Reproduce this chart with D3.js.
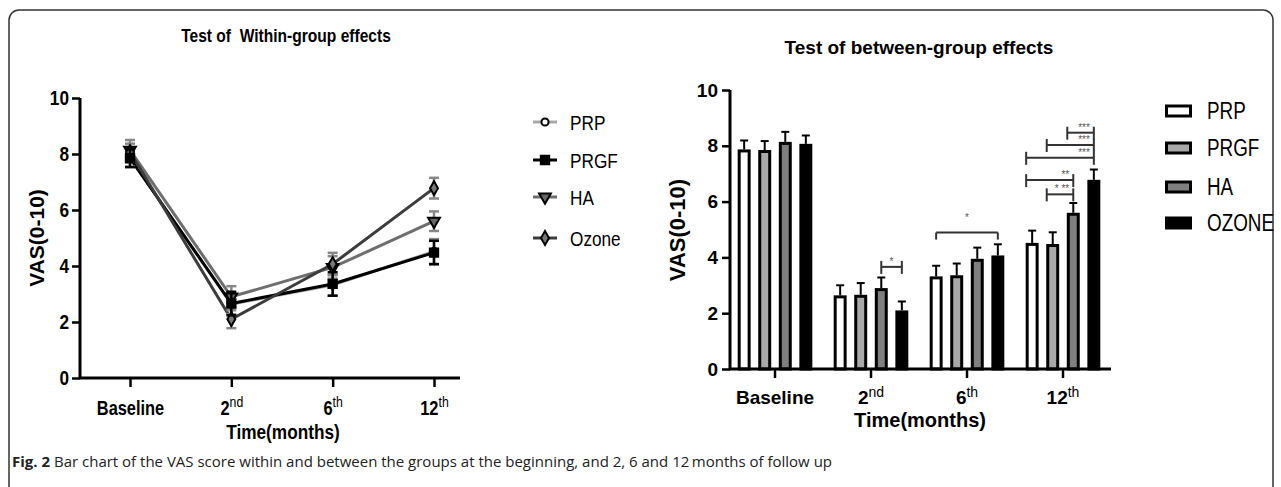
<!DOCTYPE html>
<html lang="en">
<head>
<meta charset="UTF-8">
<title>VAS score</title>
<style>
  body { margin: 0; background: #fff; }
  svg { display: block; }
  .sans { font-family: "Liberation Sans", Arial, sans-serif; }
</style>
</head>
<body>
<svg id="fig" width="1281" height="487"></svg>
<script src="https://d3js.org/d3.v7.min.js"></script>
<script>
// data
var categories = ['Baseline', '2', '6', '12']
var catSup = ['', 'nd', 'th', 'th']
var groups = ['PRP', 'PRGF', 'HA', 'OZONE']
var lineNames = ['PRP', 'PRGF', 'HA', 'Ozone']
var meanPRP = [7.87, 2.64, 3.32, 4.52]
var meanPRGF = [7.85, 2.66, 3.36, 4.48]
var meanHA = [8.14, 2.9, 3.95, 5.6]
var meanOZONE = [8.07, 2.1, 4.07, 6.78]
var semPRP = [0.32, 0.36, 0.38, 0.44]
var semPRGF = [0.32, 0.42, 0.42, 0.42]
var semHA = [0.36, 0.38, 0.4, 0.35]
var semOZONE = [0.3, 0.32, 0.4, 0.37]
var yTicks = [0, 2, 4, 6, 8, 10]
// significance brackets: category, from group, to group, level (VAS units), label
var brackets = [
  { cat: 1, from: 2, to: 3, level: 3.66, label: '*', kind: 'both' },
  { cat: 2, from: 0, to: 3, level: 4.89, label: '*', kind: 'down' },
  { cat: 3, from: 2, to: 3, level: 8.47, label: '***', kind: 'both' },
  { cat: 3, from: 1, to: 3, level: 8.03, label: '***', kind: 'both' },
  { cat: 3, from: 0, to: 3, level: 7.57, label: '***', kind: 'both' },
  { cat: 3, from: 0, to: 2, level: 6.77, label: '**', kind: 'both' },
  { cat: 3, from: 1, to: 2, level: 6.26, label: '* **', kind: 'both' }
]

var means = [meanPRP, meanPRGF, meanHA, meanOZONE]
var sems = [semPRP, semPRGF, semHA, semOZONE]
var NARROW = 0.82 // squeeze for the condensed face

// squeeze text horizontally (no narrow font installed)
function narrow (sel) {
  sel.each(function () {
    var t = d3.select(this)
    var x = +t.attr('x') || 0
    t.attr('x', x / NARROW).attr('transform', 'scale(' + NARROW + ',1)')
  })
}

var svg = d3.select('#fig').attr('class', 'sans')

// frame
svg.append('rect')
  .attr('x', 9).attr('y', 10).attr('width', 1264).attr('height', 500)
  .attr('rx', 10)
  .style('fill', 'none').style('stroke', '#333').style('stroke-width', 1.5)

// caption
var cap = svg.append('text').attr('x', 12).attr('y', 467)
  .style('font-family', '"Open Sans", "Noto Sans", sans-serif')
  .style('font-size', '15px').style('fill', '#222')
cap.append('tspan').style('font-weight', 'bold').text('Fig. 2')
cap.append('tspan').text(' Bar chart of the VAS score within and between the groups at the beginning, and 2, 6 and 12\u2009months of follow up')

function addCatLabel (sel, size, supSize) {
  sel.each(function (d) {
    var t = d3.select(this).text(null)
    var idx = categories.indexOf(d)
    t.append('tspan').text(d)
    if (catSup[idx]) {
      t.append('tspan').attr('dy', -size * 0.42).style('font-size', supSize + 'px')
        .style('font-weight', 'normal').text(catSup[idx])
    }
  })
}

// ---------- left: within-group line chart ----------
var left = svg.append('g')
var yL = d3.scaleLinear().domain([0, 10]).range([378, 98])
var xL = d3.scalePoint().domain(categories).range([130, 434])

left.append('text').attr('x', 286).attr('y', 42).attr('text-anchor', 'middle')
  .style('font-size', '19px').style('font-weight', 'bold').style('white-space', 'pre')
  .text('Test of  Within-group effects')
  .call(narrow)

var axL = left.append('g').attr('transform', 'translate(80,0)')
  .call(d3.axisLeft(yL).tickValues(yTicks).tickSize(8).tickPadding(3))
axL.select('.domain').style('stroke-width', 3).attr('d', 'M0,' + yL(10) + 'V' + yL(0))
axL.selectAll('.tick line').style('stroke-width', 2.5)
axL.selectAll('.tick text').style('font-size', '21px').style('font-weight', 'bold')
  .style('font-family', null).call(narrow)

var axLx = left.append('g').attr('transform', 'translate(0,378)')
  .call(d3.axisBottom(xL).tickSize(9).tickPadding(14).tickSizeOuter(0))
axLx.select('.domain').style('stroke-width', 3).attr('d', 'M80,0H460')
axLx.selectAll('.tick line').style('stroke-width', 2.5)
axLx.selectAll('.tick text').style('font-size', '20px').style('font-weight', 'bold')
  .style('font-family', null).call(addCatLabel, 20, 15).call(narrow)

left.append('text').attr('x', 283).attr('y', 439).attr('text-anchor', 'middle')
  .style('font-size', '21px').style('font-weight', 'bold').text('Time(months)').call(narrow)
left.append('text').attr('transform', 'translate(44,238) rotate(-90)').attr('text-anchor', 'middle')
  .style('font-size', '21px').style('font-weight', 'bold').text('VAS(0-10)')

var lineColor = ['#a8a8a8', '#000', '#6e6e6e', '#3c3c3c']
var errColor = ['#888', '#000', '#888', '#888']
var markFill = ['#fff', '#000', '#666', '#777']
var symbols = [d3.symbolCircle, d3.symbolSquare, d3.symbolTriangle, d3.symbolDiamond]
var symSize = [40, 70, 60, 55]
var symRot = [0, 0, 180, 0]

var line = d3.line().x(function (d, i) { return xL(categories[i]) }).y(function (d) { return yL(d) })

// draw order: PRP, HA, PRGF, Ozone so black stays visible
;[0, 2, 1, 3].forEach(function (g) {
  left.append('path').datum(means[g]).attr('d', line)
    .style('fill', 'none').style('stroke', lineColor[g]).style('stroke-width', 3)
})
;[0, 2, 3, 1].forEach(function (g) {
  var eg = left.append('g')
  means[g].forEach(function (m, i) {
    var x = xL(categories[i])
    var lo = yL(m - sems[g][i]); var hi = yL(m + sems[g][i])
    eg.append('line').attr('x1', x).attr('x2', x).attr('y1', lo).attr('y2', hi)
      .style('stroke', errColor[g]).style('stroke-width', 2.5)
    ;[lo, hi].forEach(function (yy) {
      eg.append('line').attr('x1', x - 5).attr('x2', x + 5).attr('y1', yy).attr('y2', yy)
        .style('stroke', errColor[g]).style('stroke-width', 2.5)
    })
    eg.append('path').attr('d', d3.symbol().type(symbols[g]).size(symSize[g]))
      .attr('transform', 'translate(' + x + ',' + yL(m) + ') rotate(' + symRot[g] + ')')
      .style('fill', markFill[g]).style('stroke', '#000').style('stroke-width', 2)
  })
})

// left legend
var legL = left.append('g')
var legLy = [122, 160, 197, 238]
lineNames.forEach(function (n, g) {
  var y = legLy[g]
  legL.append('line').attr('x1', 533).attr('x2', 557).attr('y1', y).attr('y2', y)
    .style('stroke', lineColor[g]).style('stroke-width', 3)
  legL.append('path').attr('d', d3.symbol().type(symbols[g]).size(symSize[g]))
    .attr('transform', 'translate(545,' + y + ') rotate(' + symRot[g] + ')')
    .style('fill', markFill[g]).style('stroke', '#000').style('stroke-width', 2)
  legL.append('text').attr('x', 570).attr('y', y + 8).style('font-size', '21px').text(n).call(narrow)
})

// ---------- right: between-group bar chart ----------
var right = svg.append('g')
var yR = d3.scaleLinear().domain([0, 10]).range([369, 90])
var x0 = d3.scaleBand().domain(categories).range([727, 1111]).paddingInner(0.16).paddingOuter(0.08)
var x1 = d3.scaleBand().domain(groups).range([3, x0.bandwidth() - 3]).paddingInner(0.37)
var barFill = ['#fff', '#a9a9a9', '#7f7f7f', '#000']

right.append('text').attr('x', 919).attr('y', 54).attr('text-anchor', 'middle')
  .style('font-size', '19px').style('font-weight', 'bold').text('Test of between-group effects')

categories.forEach(function (c, ci) {
  groups.forEach(function (g, gi) {
    var bx = x0(c) + x1(g); var bw = x1.bandwidth()
    var m = means[gi][ci]; var s = sems[gi][ci]
    var cx = bx + bw / 2
    right.append('line').attr('x1', cx).attr('x2', cx).attr('y1', yR(m)).attr('y2', yR(m + s))
      .style('stroke', '#000').style('stroke-width', 2)
    right.append('line').attr('x1', cx - 4).attr('x2', cx + 4).attr('y1', yR(m + s)).attr('y2', yR(m + s))
      .style('stroke', '#000').style('stroke-width', 2)
    right.append('rect').attr('x', bx + 1.5).attr('y', yR(m) + 1.5)
      .attr('width', bw - 3).attr('height', yR(0) - yR(m) - 1.5)
      .style('fill', barFill[gi]).style('stroke', '#000').style('stroke-width', 3)
  })
})

var axR = right.append('g').attr('transform', 'translate(730,0)')
  .call(d3.axisLeft(yR).tickValues(yTicks).tickSize(8).tickPadding(4))
axR.select('.domain').style('stroke-width', 3).attr('d', 'M0,' + yR(10) + 'V' + yR(0))
axR.selectAll('.tick line').style('stroke-width', 2.5)
axR.selectAll('.tick text').style('font-size', '19px').style('font-weight', 'bold').style('font-family', null)

var axRx = right.append('g').attr('transform', 'translate(0,369)')
  .call(d3.axisBottom(x0).tickSize(9).tickPadding(13).tickSizeOuter(0))
axRx.select('.domain').style('stroke-width', 3).attr('d', 'M729,0H1111')
axRx.selectAll('.tick line').style('stroke-width', 2.5)
axRx.selectAll('.tick text').style('font-size', '19px').style('font-weight', 'bold')
  .style('font-family', null).call(addCatLabel, 19, 14)

right.append('text').attr('x', 920).attr('y', 427).attr('text-anchor', 'middle')
  .style('font-size', '20px').style('font-weight', 'bold').text('Time(months)')
right.append('text').attr('transform', 'translate(685,230) rotate(-90)').attr('text-anchor', 'middle')
  .style('font-size', '22px').style('font-weight', 'bold').text('VAS(0-10)')

// significance brackets
var br = right.append('g').style('stroke', '#333').style('stroke-width', 2)
brackets.forEach(function (b) {
  var c = categories[b.cat]
  var xa = x0(c) + x1(groups[b.from]) + x1.bandwidth() / 2
  var xb = x0(c) + x1(groups[b.to]) + x1.bandwidth() / 2
  if (b.cat === 3) xa -= 6
  var y = yR(b.level)
  br.append('line').attr('x1', xa).attr('x2', xb).attr('y1', y).attr('y2', y)
  var up = b.kind === 'down' ? 0 : 6
  ;[xa, xb].forEach(function (xx) {
    br.append('line').attr('x1', xx).attr('x2', xx).attr('y1', y - up).attr('y2', y + 7)
  })
  var tx = b.kind === 'down' || b.cat === 1 ? (xa + xb) / 2 : xb - 4
  var ty = b.kind === 'down' ? y - 12 : y - 2
  right.append('text').attr('x', tx).attr('y', ty)
    .attr('text-anchor', b.cat === 3 ? 'end' : 'middle')
    .style('font-size', '10px').style('fill', '#555').style('white-space', 'pre').text(b.label)
})

// right legend
var legRy = [111, 148, 187, 223]
groups.forEach(function (g, gi) {
  var y = legRy[gi]
  right.append('rect').attr('x', 1166.5).attr('y', y - 5).attr('width', 24).attr('height', 10)
    .style('fill', barFill[gi]).style('stroke', '#000').style('stroke-width', 3)
  right.append('text').attr('x', 1207).attr('y', y + 8)
    .style('font-size', '23px').text(g).call(narrow)
})
</script>
</body>
</html>
